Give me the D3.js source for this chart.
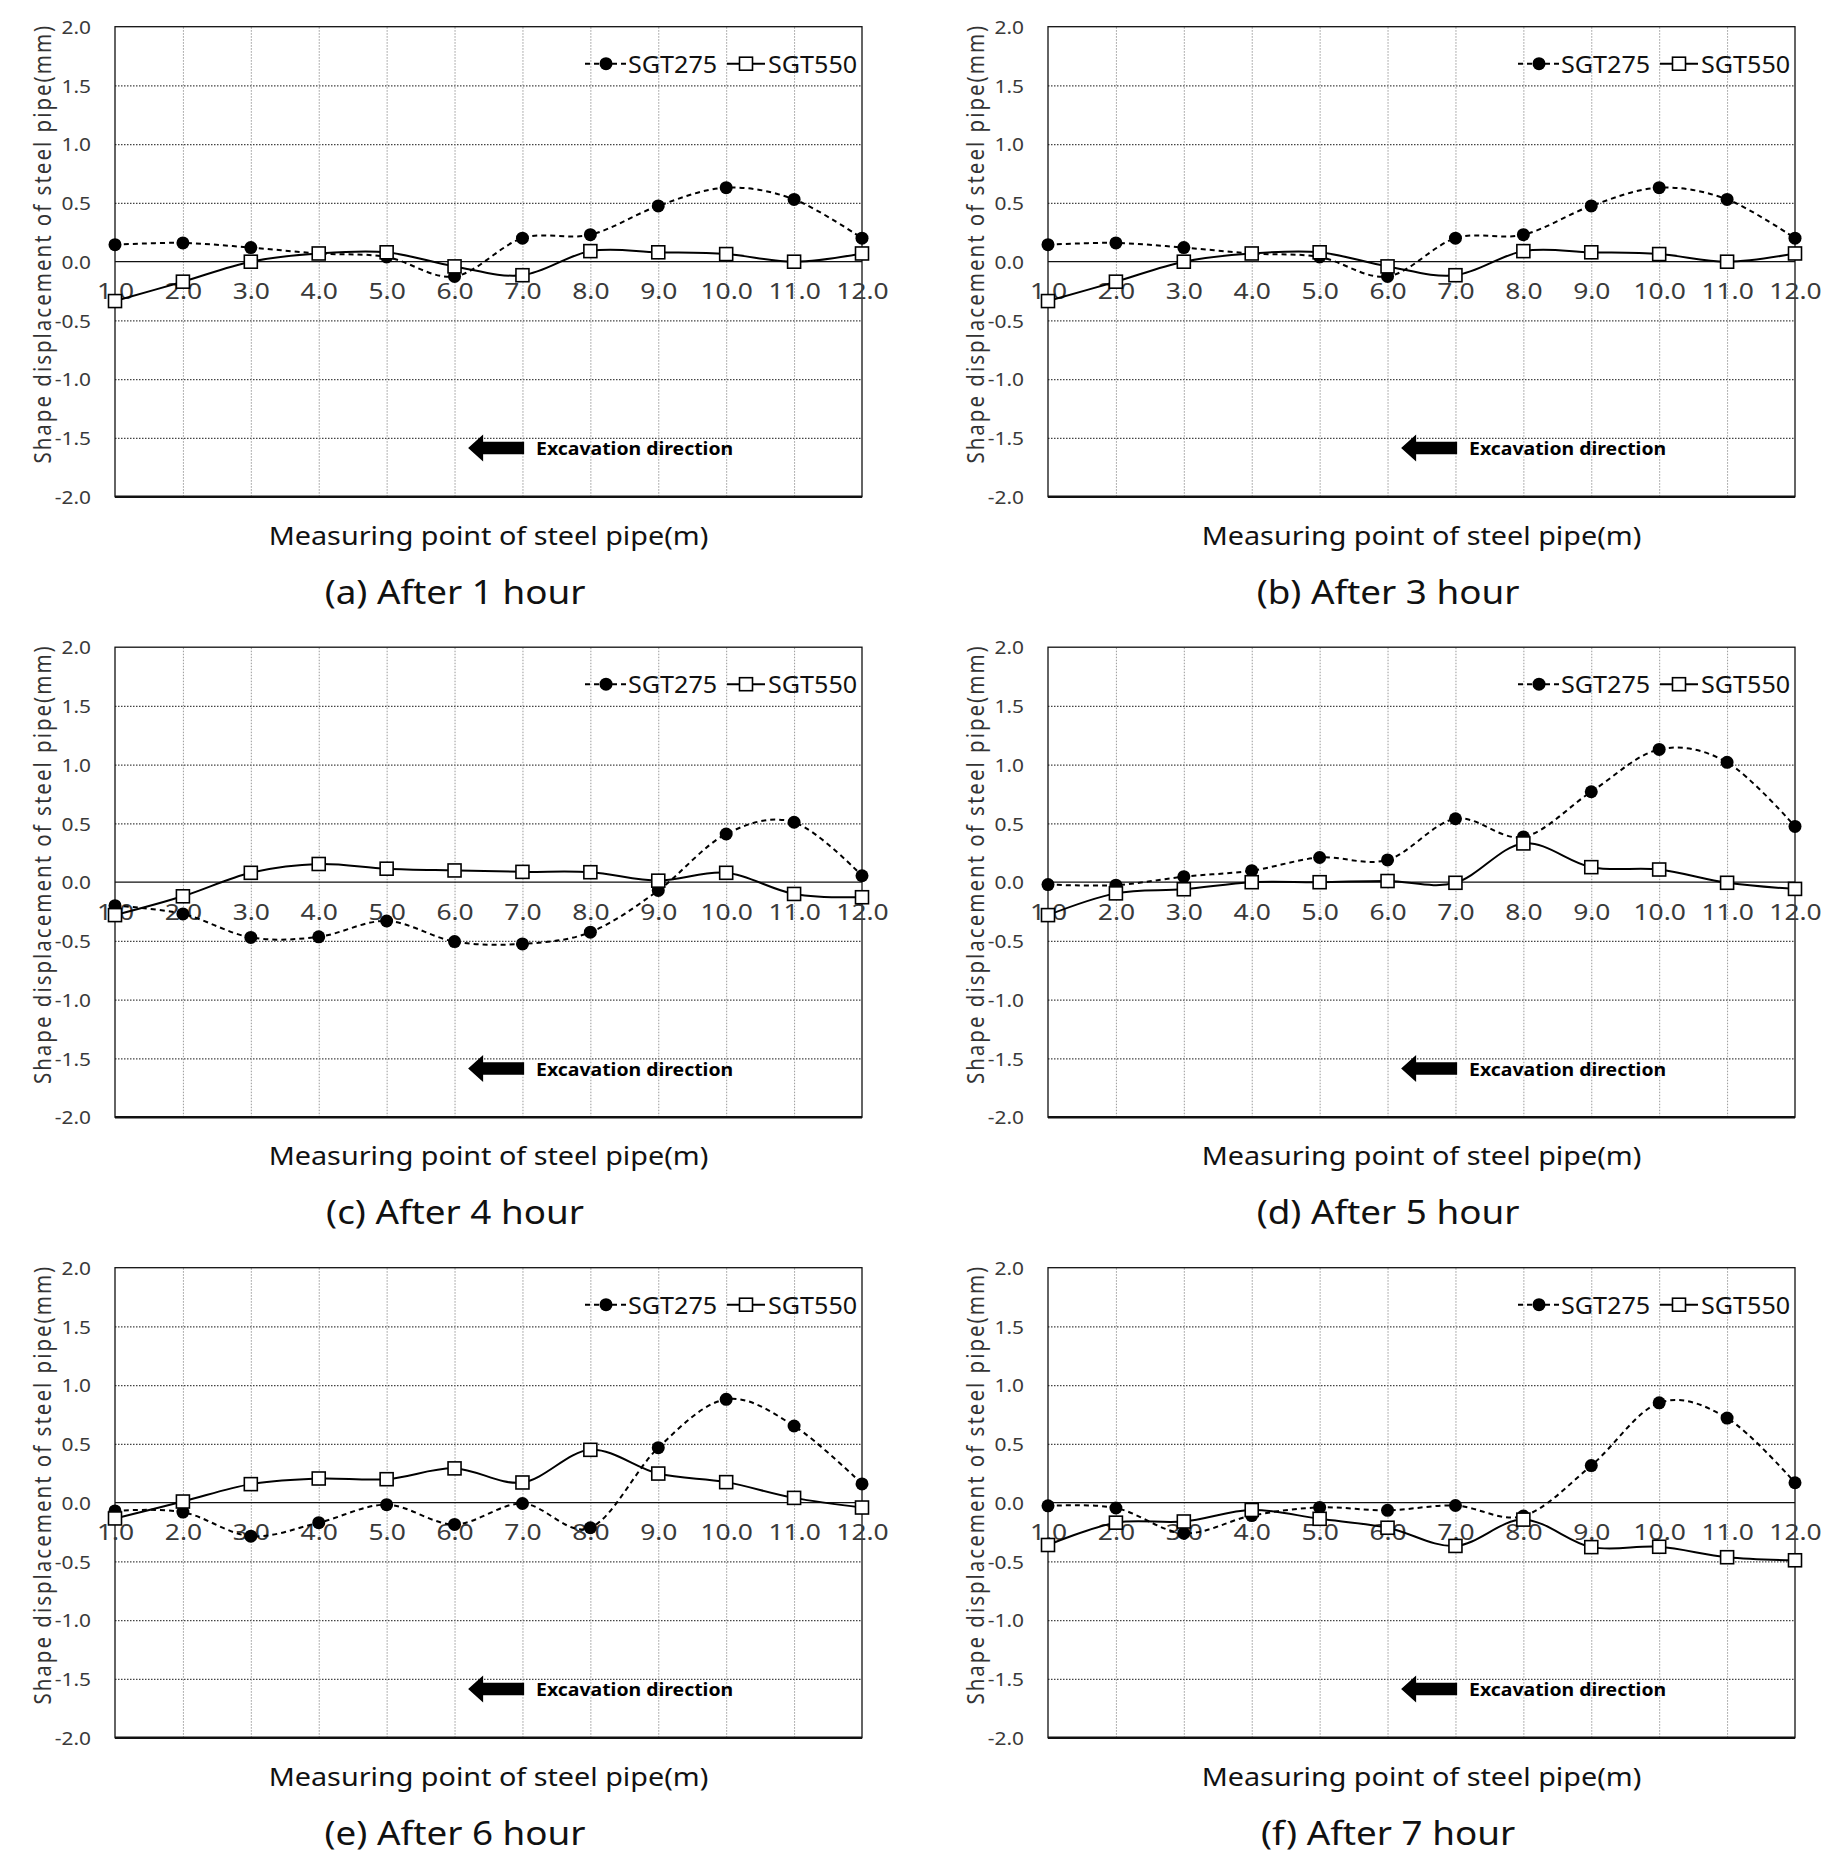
<!DOCTYPE html>
<html>
<head>
<meta charset="utf-8">
<script src="https://cdn.jsdelivr.net/npm/d3@7"></script>
<style>
  html, body { margin: 0; padding: 0; background: #fff; }
  text { font-family: "Noto Sans", "Open Sans", sans-serif; }
</style>
</head>
<body>
<div id="chart"></div>
<script>
// measuring points along the pipe (m)
var points = [1, 2, 3, 4, 5, 6, 7, 8, 9, 10, 11, 12];
var yTicks = [-2, -1.5, -1, -0.5, 0, 0.5, 1, 1.5, 2];
var captions = ["(a) After 1 hour", "(b) After 3 hour", "(c) After 4 hour",
                "(d) After 5 hour", "(e) After 6 hour", "(f) After 7 hour"];
var seriesNames = ["SGT275", "SGT550"];

// displacement (mm)
var sgt275_1h = [0.145, 0.16, 0.12, 0.07, 0.04, -0.125, 0.20, 0.23, 0.475, 0.63, 0.53, 0.20];
var sgt550_1h = [-0.335, -0.17, 0.0, 0.07, 0.08, -0.04, -0.115, 0.09, 0.08, 0.065, 0.0, 0.07];
var sgt275_3h = [0.145, 0.16, 0.12, 0.07, 0.04, -0.125, 0.20, 0.23, 0.475, 0.63, 0.53, 0.20];
var sgt550_3h = [-0.335, -0.17, 0.0, 0.07, 0.08, -0.04, -0.115, 0.09, 0.08, 0.065, 0.0, 0.07];
var sgt275_4h = [-0.20, -0.27, -0.47, -0.465, -0.33, -0.505, -0.525, -0.425, -0.07, 0.41, 0.51, 0.055];
var sgt550_4h = [-0.28, -0.12, 0.08, 0.155, 0.115, 0.10, 0.088, 0.085, 0.013, 0.08, -0.10, -0.128];
var sgt275_5h = [-0.02, -0.025, 0.047, 0.098, 0.21, 0.19, 0.54, 0.385, 0.77, 1.13, 1.02, 0.475];
var sgt550_5h = [-0.28, -0.095, -0.06, 0.0, 0.0, 0.01, -0.005, 0.33, 0.128, 0.108, -0.005, -0.057];
var sgt275_6h = [-0.07, -0.08, -0.285, -0.17, -0.017, -0.185, -0.007, -0.213, 0.468, 0.88, 0.653, 0.16];
var sgt550_6h = [-0.134, 0.01, 0.158, 0.206, 0.20, 0.292, 0.172, 0.45, 0.248, 0.175, 0.041, -0.041];
var sgt275_7h = [-0.027, -0.045, -0.26, -0.11, -0.04, -0.065, -0.024, -0.113, 0.316, 0.85, 0.72, 0.17];
var sgt550_7h = [-0.36, -0.17, -0.16, -0.062, -0.137, -0.213, -0.368, -0.144, -0.378, -0.375, -0.464, -0.49];

var panels = [
  { caption: captions[0], a: sgt275_1h, b: sgt550_1h },
  { caption: captions[1], a: sgt275_3h, b: sgt550_3h },
  { caption: captions[2], a: sgt275_4h, b: sgt550_4h },
  { caption: captions[3], a: sgt275_5h, b: sgt550_5h },
  { caption: captions[4], a: sgt275_6h, b: sgt550_6h },
  { caption: captions[5], a: sgt275_7h, b: sgt550_7h }
];

/**
 * layout
 */
var widthFull = 1840, heightFull = 1872;
var colStep = 933, rowStep = 620.5;
var margin = { left: 115, top: 26.7 };
var width = 747, height = 470;
var sx = 1.2;   // the source figure is stretched sideways

var svg = d3.select("#chart").append("svg")
    .attr("width", widthFull)
    .attr("height", heightFull)
    .attr("viewBox", `0 0 ${widthFull} ${heightFull}`);

var x = d3.scaleLinear().domain([1, 12]).range([0, width]);
var y = d3.scaleLinear().domain([-2, 2]).range([height, 0]);
var fmt = d => d.toFixed(1);

// stretched text helper
function stext(g, px, py, str, opt) {
  var t = g.append("g").attr("transform", `translate(${px},${py})`)
    .append("text")
    .attr("transform", `scale(${opt.sx || sx},1)`)
    .attr("text-anchor", opt.anchor || "start")
    .attr("dominant-baseline", opt.baseline || "auto")
    .style("font-size", opt.size + "px")
    .style("font-weight", opt.weight || "normal")
    .style("fill", opt.fill || "#222")
    .text(str);
  return t;
}

panels.forEach(function(p, i) {
  var ox = (i % 2) * colStep;
  var oy = Math.floor(i / 2) * rowStep;
  var g = svg.append("g").attr("transform", `translate(${ox + margin.left},${oy + margin.top})`);

  // horizontal grid
  g.append("g")
    .call(d3.axisLeft(y).tickValues(yTicks.filter(d => d !== 0 && Math.abs(d) !== 2))
      .tickSize(-width).tickFormat(""))
    .call(a => a.select(".domain").remove())
    .selectAll("line")
    .attr("stroke", "#444").attr("stroke-width", 1.2).attr("stroke-dasharray", "1.5,1.5");

  // vertical grid
  g.append("g")
    .attr("transform", `translate(0,${height})`)
    .call(d3.axisBottom(x).tickValues(points.slice(1, -1)).tickSize(-height).tickFormat(""))
    .call(a => a.select(".domain").remove())
    .selectAll("line")
    .attr("stroke", "#999").attr("stroke-width", 1).attr("stroke-dasharray", "1.5,1.5");

  // plot frame
  g.append("rect").attr("x", 0).attr("y", 0).attr("width", width).attr("height", height)
    .attr("fill", "none").attr("stroke", "#111").attr("stroke-width", 1.3);
  g.append("line").attr("x1", 0).attr("x2", width).attr("y1", height).attr("y2", height)
    .attr("stroke", "#111").attr("stroke-width", 2.6);

  // zero line
  g.append("line").attr("x1", 0).attr("x2", width).attr("y1", y(0)).attr("y2", y(0))
    .attr("stroke", "#111").attr("stroke-width", 1.2);

  // y tick labels
  var ya = g.append("g")
    .call(d3.axisLeft(y).tickValues(yTicks).tickSize(0).tickPadding(0).tickFormat(fmt));
  ya.select(".domain").remove();
  ya.selectAll("text")
    .attr("dy", "0.35em")
    .attr("transform", `scale(1.1,1)`)
    .attr("x", -24 / 1.1)
    .style("font-size", "19px").style("fill", "#3a3a3a")
    .style("font-family", '"Noto Sans", sans-serif');

  // x tick labels, next to the zero line
  var xa = g.append("g")
    .attr("transform", `translate(0,${y(0)})`)
    .call(d3.axisBottom(x).tickValues(points).tickSize(0).tickFormat(fmt));
  xa.select(".domain").remove();
  xa.selectAll("text")
    .attr("y", 30).attr("dy", "0.35em")
    .attr("transform", `scale(${sx},1)`)
    .style("font-size", "22px").style("fill", "#3a3a3a")
    .style("font-family", '"Noto Sans", sans-serif');

  // axis titles
  stext(g, width / 2, height + 48, "Measuring point of steel pipe(m)",
    { anchor: "middle", size: 25, sx: 1.15, fill: "#111" });
  g.append("text")
    .attr("transform", `translate(${43 - margin.left},${height / 2 - 18}) rotate(-90) scale(1,1.15)`)
    .attr("text-anchor", "middle").attr("dy", "0.35em")
    .style("font-size", "20.5px").style("fill", "#333").style("letter-spacing", "2px")
    .text("Shape displacement of steel pipe(mm)");

  // caption
  stext(g, 455 - margin.left, 591 - margin.top, p.caption,
    { anchor: "middle", baseline: "central", size: 32, sx: 1.15, fill: "#111" });

  // excavation direction arrow
  var ax = x(6.2), ay = y(-1.585);
  g.append("path")
    .attr("d", `M${ax},${ay} L${ax + 15},${ay - 13.5} L${ax + 15},${ay - 6.3} L${ax + 56},${ay - 6.3}
               L${ax + 56},${ay + 6.3} L${ax + 15},${ay + 6.3} L${ax + 15},${ay + 13.5} Z`)
    .attr("fill", "#000");
  stext(g, x(7.2), ay, "Excavation direction",
    { baseline: "central", size: 18, sx: 1.08, weight: "bold", fill: "#000" });

  // series
  var line = d3.line().x((d, k) => x(points[k])).y(d => y(d)).curve(d3.curveCardinal);
  g.append("path").datum(p.a).attr("d", line)
    .attr("fill", "none").attr("stroke", "#000").attr("stroke-width", 2)
    .attr("stroke-dasharray", "5,4");
  g.append("path").datum(p.b).attr("d", line)
    .attr("fill", "none").attr("stroke", "#000").attr("stroke-width", 2);

  g.selectAll(".m275").data(p.a).enter().append("circle")
    .attr("cx", (d, k) => x(points[k])).attr("cy", d => y(d)).attr("r", 6.5)
    .attr("fill", "#000");
  g.selectAll(".m550").data(p.b).enter().append("rect")
    .attr("x", (d, k) => x(points[k]) - 6.5).attr("y", d => y(d) - 6.5)
    .attr("width", 13).attr("height", 13)
    .attr("fill", "#fff").attr("stroke", "#000").attr("stroke-width", 1.6);

  // legend
  var ly = 37;
  var lg = g.append("g").attr("transform", `translate(${width},${ly})`);
  lg.append("line").attr("x1", -277).attr("x2", -235).attr("y1", 0).attr("y2", 0)
    .attr("stroke", "#000").attr("stroke-width", 2).attr("stroke-dasharray", "5,4");
  lg.append("circle").attr("cx", -256).attr("cy", 0).attr("r", 6.5).attr("fill", "#000");
  stext(lg, -234, 0, seriesNames[0], { baseline: "central", size: 23.5, sx: 1.07, fill: "#111" });
  lg.append("line").attr("x1", -135).attr("x2", -97).attr("y1", 0).attr("y2", 0)
    .attr("stroke", "#000").attr("stroke-width", 2);
  lg.append("rect").attr("x", -122.5).attr("y", -6.5).attr("width", 13).attr("height", 13)
    .attr("fill", "#fff").attr("stroke", "#000").attr("stroke-width", 1.6);
  stext(lg, -94, 0, seriesNames[1], { baseline: "central", size: 23.5, sx: 1.07, fill: "#111" });
});
</script>
</body>
</html>
